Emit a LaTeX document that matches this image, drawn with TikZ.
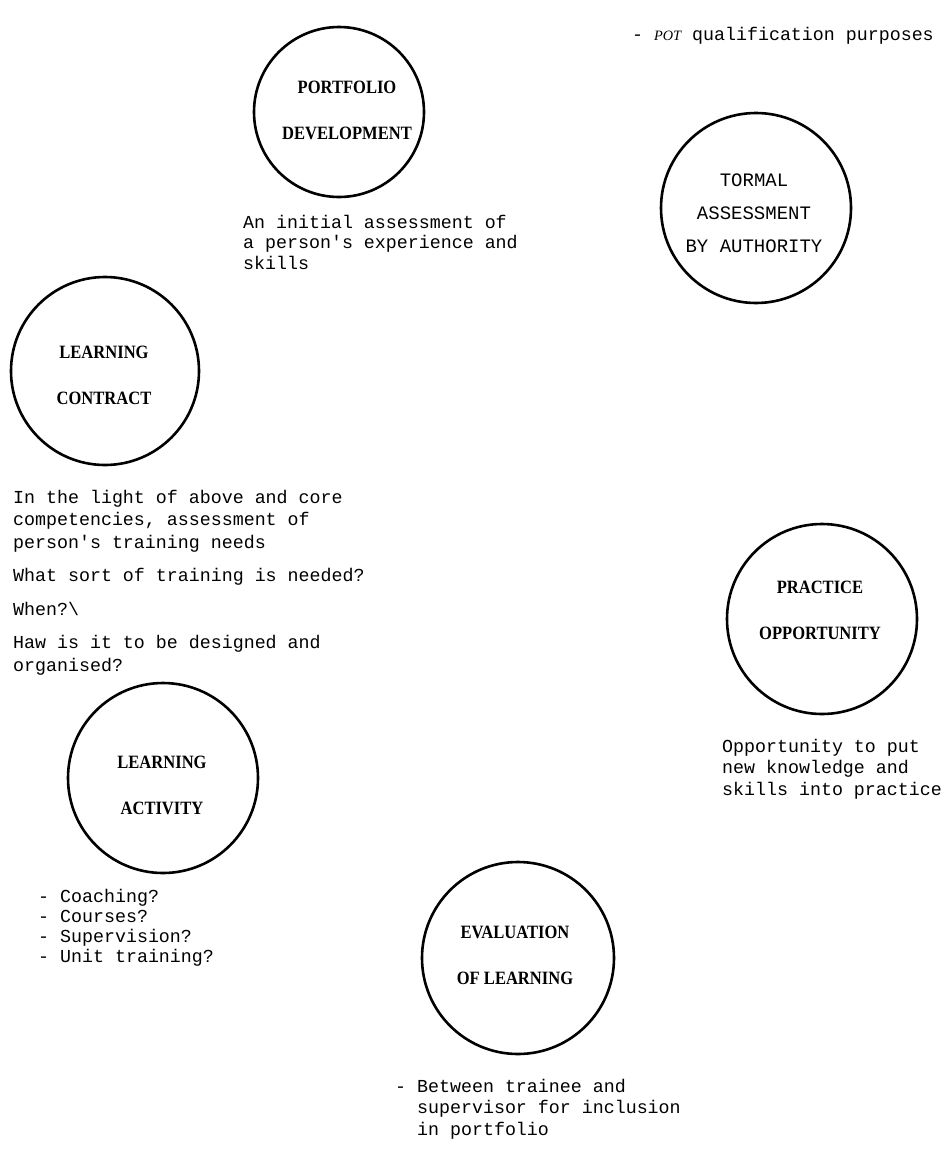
\documentclass[tikz,border=0pt]{standalone}
\usepackage{fontspec}
\setmainfont{Liberation Serif}
\newfontfamily\monof{Liberation Mono}
\newfontfamily\seriff{Liberation Serif}
\newfontfamily\labelf{Liberation Serif}[FakeStretch=0.88]
\newcommand\lblk[1]{\begin{tabular}[t]{@{}l@{}}#1\end{tabular}}
\newcommand\cblk[1]{\begin{tabular}[t]{@{}c@{}}#1\end{tabular}}
\begin{document}
\begin{tikzpicture}[x=1pt,y=-1pt,
  ring/.style={circle,draw=black,line width=2.6pt,inner sep=0pt},
  caption/.style={anchor=base west,inner sep=0pt,font=\monof\fontsize{18.3}{21.5}\selectfont},
  ringlabel/.style={anchor=base,inner sep=0pt,font=\labelf\bfseries\fontsize{18.8}{46}\selectfont},
  monolabel/.style={anchor=base,inner sep=0pt,font=\monof\fontsize{19}{33}\selectfont}]
\useasboundingbox[fill=white] (0,0) rectangle (946,1149);

% circles
\node[ring,minimum size=170pt] (pd) at (339,112) {};
\node[ring,minimum size=190pt] (fa) at (756,208) {};
\node[ring,minimum size=188pt] (lc) at (105,371) {};
\node[ring,minimum size=190pt] (la) at (163,778) {};
\node[ring,minimum size=192pt] (ev) at (518,958) {};
\node[ring,minimum size=190pt] (po) at (822,619) {};

% circle labels
\node[ringlabel] (pdl) at (347,93) {\cblk{PORTFOLIO\\DEVELOPMENT}};
\node[monolabel] (fal) at (754,186) {\cblk{TORMAL\\ASSESSMENT\\BY AUTHORITY}};
\node[ringlabel] (lcl) at (104,358) {\cblk{LEARNING\\CONTRACT}};
\node[ringlabel] (lal) at (162,768) {\cblk{LEARNING\\ACTIVITY}};
\node[ringlabel] (evl) at (515,938) {\cblk{EVALUATION\\OF LEARNING}};
\node[ringlabel] (pol) at (820,593) {\cblk{PRACTICE\\OPPORTUNITY}};

% captions
\node[caption] (pot) at (632,40) {- {\seriff\itshape\fontsize{14.3}{16}\selectfont POT} qualification purposes};
\node[caption,font=\monof\fontsize{18.3}{20.5}\selectfont] (pdc) at (243,228)
  {\lblk{An initial assessment of\\a person's experience and\\skills}};
\node[caption,font=\monof\fontsize{18.3}{22.5}\selectfont] (lcc) at (13,503)
  {\lblk{In the light of above and core\\competencies, assessment of\\person's training needs\\[11pt]What sort of training is needed?\\[11pt]When?\textbackslash\\[11pt]Haw is it to be designed and\\organised?}};
\node[caption,font=\monof\fontsize{18.3}{20}\selectfont] (lac) at (38,902)
  {\lblk{- Coaching?\\- Courses?\\- Supervision?\\- Unit training?}};
\node[caption] (evc) at (395,1092)
  {\lblk{- Between trainee and\\\phantom{- }supervisor for inclusion\\\phantom{- }in portfolio}};
\node[caption] (poc) at (722,752)
  {\lblk{Opportunity to put\\new knowledge and\\skills into practice}};
\end{tikzpicture}
\end{document}
